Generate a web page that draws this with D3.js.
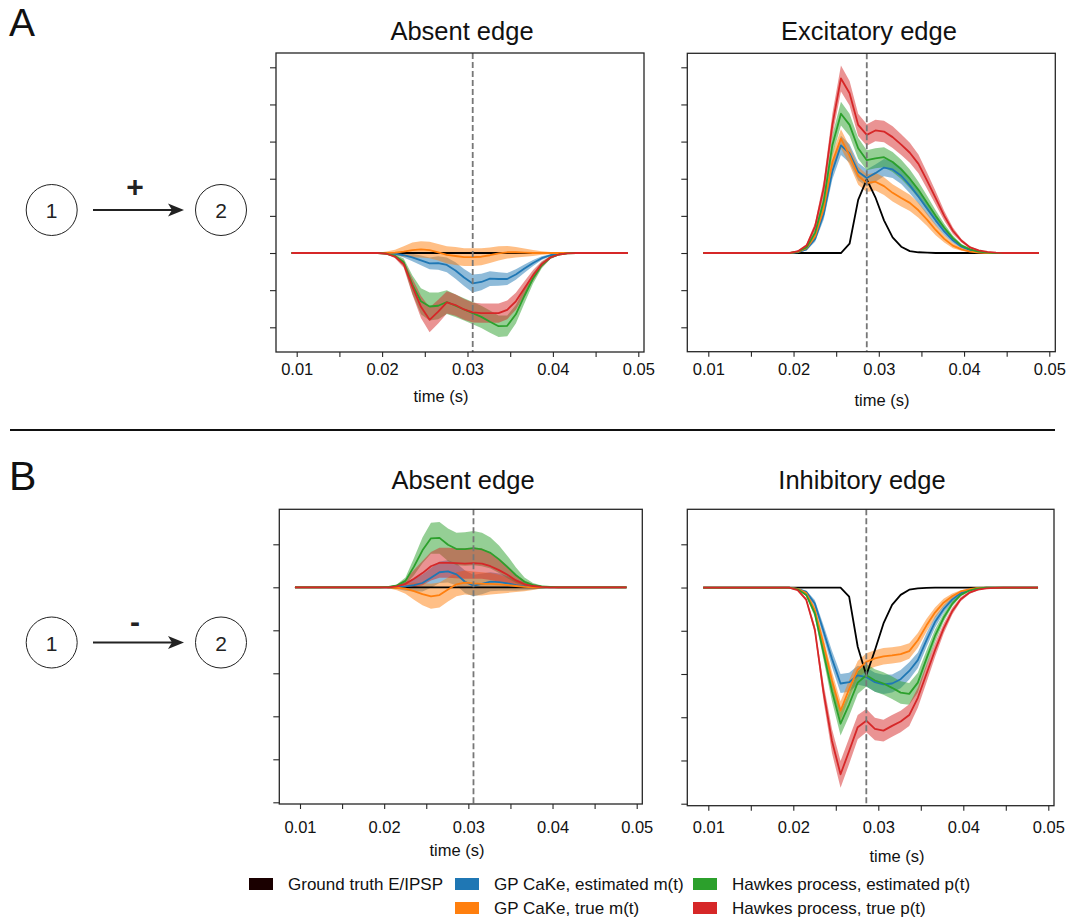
<!DOCTYPE html>
<html>
<head>
<meta charset="utf-8">
<script src="https://cdn.jsdelivr.net/npm/d3@7"></script>
<style>
  body { margin: 0; background: #fff; }
  svg { display: block; font-family: "Liberation Sans", Arial, Helvetica, sans-serif; }
</style>
</head>
<body>
<svg id="fig" width="1067" height="921"></svg>
<script>
// time grid (s)
const time = [
  0.00940, 0.01041, 0.01142, 0.01243, 0.01344, 0.01445, 0.01546, 0.01647, 0.01748, 0.01849,
  0.01950, 0.02051, 0.02152, 0.02253, 0.02354, 0.02455, 0.02556, 0.02657, 0.02758, 0.02859,
  0.02960, 0.03061, 0.03162, 0.03263, 0.03364, 0.03465, 0.03566, 0.03667, 0.03768, 0.03869,
  0.03970, 0.04071, 0.04172, 0.04273, 0.04374, 0.04475, 0.04576, 0.04677, 0.04778, 0.04879
];

const xTicks = [0.01, 0.015, 0.02, 0.025, 0.03, 0.035, 0.04, 0.045, 0.05];
const xTickLabels = ['0.01', '', '0.02', '', '0.03', '', '0.04', '', '0.05'];
const yTicksTop = [-2, -1, 0, 1, 2, 3, 4, 5];
const yTicksBottom = [-5, -4, -3, -2, -1, 0, 1];

const titles = ['Absent edge', 'Excitatory edge', 'Absent edge', 'Inhibitory edge'];
const dashedTimes = [0.03061, 0.02859, 0.03061, 0.02859];

const seriesKeys = ['black', 'blue', 'orange', 'green', 'red'];
const colors = {black: '#000000', blue: '#1f77b4', orange: '#ff7f0e', green: '#2ca02c', red: '#d62728'};

const legendLabels = ['Ground truth E/IPSP', 'GP CaKe, estimated m(t)', 'Hawkes process, estimated p(t)',
                      'GP CaKe, true m(t)', 'Hawkes process, true p(t)'];
const legendColors = ['#1a0000', '#1f77b4', '#2ca02c', '#ff7f0e', '#d62728'];

// ---- A, absent edge
const aAbsBlack = [0,0,0,0,0,0,0,0,0,0, 0,0,0,0,0,0,0,0,0,0, 0,0,0,0,0,0,0,0,0,0, 0,0,0,0,0,0,0,0,0,0];
const aAbsBlue = [0,0,0,0,0,0,0,0,0,0,0, 0, -0.02, -0.06, -0.12, -0.20, -0.28, -0.27, -0.32, -0.47, -0.66, -0.82, -0.78, -0.69, -0.70, -0.70, -0.58, -0.42, -0.27, -0.14, -0.06, -0.02, 0,0,0,0,0,0,0,0];
const aAbsBlueSd = [0,0,0,0,0,0,0,0,0,0,0, 0.01, 0.03, 0.06, 0.10, 0.13, 0.16, 0.18, 0.20, 0.22, 0.23, 0.24, 0.22, 0.20, 0.18, 0.16, 0.14, 0.11, 0.08, 0.05, 0.03, 0.02, 0.01, 0,0,0,0,0,0,0];
const aAbsOrange = [0,0,0,0,0,0,0,0,0,0,0, 0, 0.01, 0.04, 0.08, 0.10, 0.08, 0.02, -0.05, -0.08, -0.11, -0.11, -0.10, -0.06, -0.01, 0.02, 0.02, 0.01, 0,0,0,0,0,0,0,0,0,0,0,0];
const aAbsOrangeSd = [0,0,0,0,0,0,0,0,0,0, 0.01, 0.04, 0.08, 0.14, 0.20, 0.22, 0.22, 0.22, 0.23, 0.24, 0.24, 0.24, 0.23, 0.21, 0.19, 0.17, 0.14, 0.11, 0.08, 0.05, 0.03, 0.02, 0.01, 0,0,0,0,0,0,0];
const aAbsGreen = [0,0,0,0,0,0,0,0,0,0,0, -0.02, -0.08, -0.25, -0.85, -1.30, -1.44, -1.42, -1.32, -1.42, -1.52, -1.62, -1.72, -1.85, -1.97, -1.96, -1.65, -1.15, -0.68, -0.33, -0.12, -0.04, -0.01, 0,0,0,0,0,0,0];
const aAbsGreenSd = [0,0,0,0,0,0,0,0,0,0,0, 0.01, 0.04, 0.10, 0.25, 0.35, 0.38, 0.36, 0.32, 0.30, 0.30, 0.30, 0.30, 0.30, 0.29, 0.28, 0.25, 0.20, 0.14, 0.08, 0.04, 0.02, 0.01, 0,0,0,0,0,0,0];
const aAbsRed = [0,0,0,0,0,0,0,0,0,0,0, -0.02, -0.10, -0.30, -0.90, -1.45, -1.80, -1.58, -1.33, -1.40, -1.52, -1.60, -1.62, -1.62, -1.62, -1.53, -1.30, -0.95, -0.60, -0.30, -0.12, -0.04, -0.01, 0,0,0,0,0,0,0];
const aAbsRedSd = [0,0,0,0,0,0,0,0,0,0,0, 0.01, 0.04, 0.10, 0.22, 0.30, 0.33, 0.32, 0.30, 0.29, 0.28, 0.27, 0.26, 0.26, 0.26, 0.25, 0.23, 0.19, 0.14, 0.08, 0.04, 0.02, 0.01, 0,0,0,0,0,0,0];

// ---- A, excitatory edge
const aExcBlack = [0,0,0,0,0,0,0,0,0,0,0,0,0,0,0,0,0, 0.25, 1.43, 1.98, 1.50, 0.88, 0.42, 0.17, 0.05, 0.02, 0.01, 0,0,0,0,0,0,0,0,0,0,0,0,0];
const aExcBlue = [0,0,0,0,0,0,0,0,0,0,0, 0.02, 0.10, 0.38, 1.05, 2.20, 2.90, 2.68, 2.19, 2.02, 2.15, 2.30, 2.25, 2.08, 1.82, 1.52, 1.20, 0.88, 0.58, 0.34, 0.17, 0.08, 0.03, 0.01, 0,0,0,0,0,0];
const aExcBlueSd = [0,0,0,0,0,0,0,0,0,0,0, 0.01, 0.03, 0.08, 0.15, 0.22, 0.26, 0.25, 0.24, 0.23, 0.23, 0.23, 0.23, 0.22, 0.21, 0.19, 0.17, 0.14, 0.10, 0.07, 0.04, 0.02, 0.01, 0,0,0,0,0,0,0];
const aExcOrange = [0,0,0,0,0,0,0,0,0,0,0, 0.03, 0.13, 0.45, 1.20, 2.45, 3.08, 2.62, 2.08, 1.88, 1.92, 1.80, 1.62, 1.48, 1.35, 1.15, 0.90, 0.62, 0.38, 0.20, 0.10, 0.04, 0.01, 0,0,0,0,0,0,0];
const aExcOrangeSd = [0,0,0,0,0,0,0,0,0,0,0, 0.01, 0.03, 0.08, 0.15, 0.22, 0.25, 0.25, 0.24, 0.24, 0.24, 0.24, 0.23, 0.23, 0.22, 0.20, 0.17, 0.14, 0.10, 0.07, 0.04, 0.02, 0.01, 0,0,0,0,0,0,0];
const aExcGreen = [0,0,0,0,0,0,0,0,0,0,0, 0.04, 0.15, 0.55, 1.40, 2.90, 3.75, 3.45, 2.82, 2.50, 2.55, 2.58, 2.45, 2.25, 2.00, 1.70, 1.35, 1.00, 0.68, 0.40, 0.20, 0.10, 0.04, 0.01, 0,0,0,0,0,0];
const aExcGreenSd = [0,0,0,0,0,0,0,0,0,0,0, 0.01, 0.03, 0.08, 0.18, 0.28, 0.32, 0.30, 0.28, 0.27, 0.27, 0.27, 0.27, 0.26, 0.25, 0.22, 0.19, 0.15, 0.11, 0.07, 0.04, 0.02, 0.01, 0,0,0,0,0,0,0];
const aExcRed = [0,0,0,0,0,0,0,0,0,0,0, 0.05, 0.20, 0.72, 1.75, 3.45, 4.70, 4.30, 3.45, 3.18, 3.30, 3.27, 3.12, 2.92, 2.70, 2.40, 1.95, 1.48, 1.00, 0.60, 0.33, 0.15, 0.07, 0.03, 0.01, 0,0,0,0,0];
const aExcRedSd = [0,0,0,0,0,0,0,0,0,0,0, 0.01, 0.04, 0.10, 0.20, 0.30, 0.35, 0.33, 0.30, 0.29, 0.29, 0.29, 0.29, 0.28, 0.27, 0.25, 0.22, 0.18, 0.13, 0.09, 0.05, 0.03, 0.01, 0,0,0,0,0,0,0];

// ---- B, absent edge
const bAbsBlack = [0,0,0,0,0,0,0,0,0,0, 0,0,0,0,0,0,0,0,0,0, 0,0,0,0,0,0,0,0,0,0, 0,0,0,0,0,0,0,0,0,0];
const bAbsBlue = [0,0,0,0,0,0,0,0,0,0,0, 0, 0.01, 0.02, 0.05, 0.10, 0.22, 0.35, 0.37, 0.30, 0.13, 0.04, 0.08, 0.13, 0.12, 0.09, 0.05, 0.02, 0.01, 0,0,0,0,0,0,0,0,0,0,0];
const bAbsBlueSd = [0,0,0,0,0,0,0,0,0,0,0, 0.02, 0.05, 0.10, 0.15, 0.20, 0.23, 0.25, 0.26, 0.26, 0.26, 0.25, 0.24, 0.22, 0.20, 0.17, 0.13, 0.09, 0.06, 0.03, 0.01, 0,0,0,0,0,0,0,0,0];
const bAbsOrange = [0,0,0,0,0,0,0,0,0,0,0, 0, -0.01, -0.03, -0.09, -0.16, -0.21, -0.18, -0.05, 0.07, 0.11, 0.09, 0.08, 0.08, 0.07, 0.05, 0.03, 0.01, 0,0,0,0,0,0,0,0,0,0,0,0];
const bAbsOrangeSd = [0,0,0,0,0,0,0,0,0,0,0, 0.02, 0.06, 0.12, 0.20, 0.26, 0.29, 0.29, 0.28, 0.28, 0.28, 0.28, 0.27, 0.25, 0.22, 0.18, 0.14, 0.10, 0.06, 0.03, 0.01, 0,0,0,0,0,0,0,0,0];
const bAbsGreen = [0,0,0,0,0,0,0,0,0,0,0, 0.01, 0.04, 0.15, 0.48, 0.86, 1.14, 1.15, 0.99, 0.89, 0.89, 0.91, 0.88, 0.80, 0.65, 0.47, 0.28, 0.13, 0.05, 0.02, 0.01, 0,0,0,0,0,0,0,0,0];
const bAbsGreenSd = [0,0,0,0,0,0,0,0,0,0,0, 0.01, 0.03, 0.08, 0.20, 0.30, 0.36, 0.37, 0.38, 0.38, 0.39, 0.40, 0.39, 0.36, 0.32, 0.26, 0.18, 0.10, 0.05, 0.02, 0.01, 0,0,0,0,0,0,0,0,0];
const bAbsRed = [0,0,0,0,0,0,0,0,0,0,0, 0, 0.02, 0.08, 0.20, 0.33, 0.49, 0.57, 0.57, 0.56, 0.55, 0.56, 0.55, 0.49, 0.40, 0.29, 0.16, 0.07, 0.03, 0.01, 0,0,0,0,0,0,0,0,0,0];
const bAbsRedSd = [0,0,0,0,0,0,0,0,0,0,0, 0.01, 0.04, 0.10, 0.20, 0.28, 0.33, 0.35, 0.35, 0.35, 0.35, 0.36, 0.35, 0.32, 0.27, 0.21, 0.14, 0.08, 0.04, 0.02, 0.01, 0,0,0,0,0,0,0,0,0];

// ---- B, inhibitory edge
const bInhBlack = [0,0,0,0,0,0,0,0,0,0,0,0,0,0,0,0,0, -0.21, -1.37, -2.03, -1.45, -0.83, -0.40, -0.17, -0.05, -0.02, -0.01, 0,0,0,0,0,0,0,0,0,0,0,0,0];
const bInhBlue = [0,0,0,0,0,0,0,0,0,0,0, -0.03, -0.10, -0.37, -1.00, -1.65, -2.22, -2.19, -2.03, -2.07, -2.19, -2.24, -2.22, -2.12, -1.93, -1.68, -1.22, -0.80, -0.50, -0.28, -0.13, -0.05, -0.02, 0,0,0,0,0,0,0];
const bInhBlueSd = [0,0,0,0,0,0,0,0,0,0,0, 0.01, 0.03, 0.08, 0.14, 0.19, 0.22, 0.22, 0.22, 0.22, 0.22, 0.22, 0.21, 0.21, 0.20, 0.18, 0.16, 0.13, 0.09, 0.06, 0.03, 0.02, 0.01, 0,0,0,0,0,0,0];
const bInhOrange = [0,0,0,0,0,0,0,0,0,0,0, -0.03, -0.13, -0.52, -1.30, -2.15, -2.85, -2.35, -1.90, -1.72, -1.64, -1.59, -1.57, -1.54, -1.47, -1.22, -0.88, -0.58, -0.35, -0.20, -0.09, -0.04, -0.01, 0,0,0,0,0,0,0];
const bInhOrangeSd = [0,0,0,0,0,0,0,0,0,0,0, 0.01, 0.03, 0.08, 0.15, 0.20, 0.22, 0.21, 0.20, 0.20, 0.19, 0.19, 0.19, 0.19, 0.18, 0.17, 0.15, 0.12, 0.09, 0.06, 0.03, 0.02, 0.01, 0,0,0,0,0,0,0];
const bInhGreen = [0,0,0,0,0,0,0,0,0,0,0, -0.04, -0.17, -0.60, -1.50, -2.40, -3.15, -2.70, -2.20, -2.03, -2.15, -2.22, -2.32, -2.43, -2.46, -2.20, -1.65, -1.12, -0.70, -0.38, -0.17, -0.07, -0.02, 0,0,0,0,0,0,0];
const bInhGreenSd = [0,0,0,0,0,0,0,0,0,0,0, 0.01, 0.03, 0.08, 0.16, 0.23, 0.27, 0.27, 0.26, 0.26, 0.26, 0.26, 0.26, 0.26, 0.25, 0.23, 0.19, 0.15, 0.10, 0.06, 0.03, 0.02, 0.01, 0,0,0,0,0,0,0];
const bInhRed = [0,0,0,0,0,0,0,0,0,0,0, -0.06, -0.28, -0.97, -2.40, -3.55, -4.32, -3.78, -3.23, -3.08, -3.27, -3.31, -3.20, -3.10, -2.95, -2.55, -2.00, -1.45, -0.95, -0.55, -0.27, -0.12, -0.05, -0.02, -0.01, 0,0,0,0,0];
const bInhRedSd = [0,0,0,0,0,0,0,0,0,0,0, 0.01, 0.04, 0.10, 0.20, 0.28, 0.31, 0.30, 0.28, 0.27, 0.26, 0.25, 0.25, 0.25, 0.25, 0.23, 0.20, 0.16, 0.12, 0.08, 0.05, 0.03, 0.01, 0,0,0,0,0,0,0];

const svg = d3.select('#fig');

// layout of the four axes (pixels)
const panels = [
  {box: {l: 276, r: 644, t: 53, b: 352}, x01: 296.7, x05: 638.3, yTicks: yTicksTop, yPix: [327.3, 67.3],
   tickY: 375, label: [441, 402], titlePos: [462, 40],
   mean: {black: aAbsBlack, blue: aAbsBlue, orange: aAbsOrange, green: aAbsGreen, red: aAbsRed},
   sd: {blue: aAbsBlueSd, orange: aAbsOrangeSd, green: aAbsGreenSd, red: aAbsRedSd}},
  {box: {l: 687.3, r: 1055.3, t: 53.3, b: 351.7}, x01: 708.3, x05: 1049.3, yTicks: yTicksTop, yPix: [327.3, 67.3],
   tickY: 375, label: [882, 406], titlePos: [869, 40],
   mean: {black: aExcBlack, blue: aExcBlue, orange: aExcOrange, green: aExcGreen, red: aExcRed},
   sd: {blue: aExcBlueSd, orange: aExcOrangeSd, green: aExcGreenSd, red: aExcRedSd}},
  {box: {l: 279.3, r: 642.3, t: 509.3, b: 804}, x01: 300, x05: 636.7, yTicks: yTicksBottom, yPix: [802.3, 544.3],
   tickY: 833, label: [457, 856], titlePos: [463, 489],
   mean: {black: bAbsBlack, blue: bAbsBlue, orange: bAbsOrange, green: bAbsGreen, red: bAbsRed},
   sd: {blue: bAbsBlueSd, orange: bAbsOrangeSd, green: bAbsGreenSd, red: bAbsRedSd}},
  {box: {l: 687.3, r: 1054, t: 509.3, b: 805.7}, x01: 708.3, x05: 1048.3, yTicks: yTicksBottom, yPix: [803.7, 544.3],
   tickY: 833, label: [897, 862], titlePos: [862, 489],
   mean: {black: bInhBlack, blue: bInhBlue, orange: bInhOrange, green: bInhGreen, red: bInhRed},
   sd: {blue: bInhBlueSd, orange: bInhOrangeSd, green: bInhGreenSd, red: bInhRedSd}}
];

function drawPanel(p, idx) {
  const x = d3.scaleLinear().domain([0.01, 0.05]).range([p.x01, p.x05]);
  const y = d3.scaleLinear()
    .domain([p.yTicks[0], p.yTicks[p.yTicks.length - 1]])
    .range(p.yPix);
  const g = svg.append('g');

  // confidence bands first, then the mean lines
  ['blue', 'orange', 'green', 'red'].forEach(k => {
    const m = p.mean[k], s = p.sd[k];
    const area = d3.area()
      .x((d, i) => x(time[i]))
      .y0((d, i) => y(m[i] - s[i]))
      .y1((d, i) => y(m[i] + s[i]));
    g.append('path')
      .datum(m)
      .attr('d', area)
      .attr('fill', colors[k])
      .attr('fill-opacity', 0.5)
      .attr('stroke', 'none');
  });

  seriesKeys.forEach(k => {
    const line = d3.line()
      .x((d, i) => x(time[i]))
      .y(d => y(d));
    g.append('path')
      .datum(p.mean[k])
      .attr('d', line)
      .attr('fill', 'none')
      .attr('stroke', colors[k])
      .attr('stroke-width', 1.8)
      .attr('stroke-linejoin', 'round');
  });

  // dashed marker
  g.append('line')
    .attr('x1', x(dashedTimes[idx])).attr('x2', x(dashedTimes[idx]))
    .attr('y1', p.box.t).attr('y2', p.box.b)
    .attr('stroke', '#777')
    .attr('stroke-width', 1.8)
    .attr('stroke-dasharray', '6,3');

  // frame
  g.append('rect')
    .attr('x', p.box.l).attr('y', p.box.t)
    .attr('width', p.box.r - p.box.l).attr('height', p.box.b - p.box.t)
    .attr('fill', 'none')
    .attr('stroke', '#262626')
    .attr('stroke-width', 1.3);

  // x axis
  const xAxis = g.append('g')
    .attr('transform', `translate(0,${p.box.b})`)
    .call(d3.axisBottom(x).tickValues(xTicks).tickSize(5).tickSizeOuter(0)
      .tickFormat((d, i) => xTickLabels[i]));
  xAxis.select('.domain').remove();
  xAxis.selectAll('line').attr('stroke', '#262626').attr('stroke-width', 1.1);
  xAxis.selectAll('text')
    .attr('y', p.tickY - p.box.b)
    .attr('dy', 0)
    .attr('font-size', 16.5)
    .attr('font-family', null)
    .attr('fill', '#111');

  // y axis, ticks only
  const yAxis = g.append('g')
    .attr('transform', `translate(${p.box.l},0)`)
    .call(d3.axisLeft(y).tickValues(p.yTicks).tickSize(6).tickFormat(''));
  yAxis.select('.domain').remove();
  yAxis.selectAll('line').attr('stroke', '#262626').attr('stroke-width', 1.1);

  g.append('text')
    .attr('x', p.label[0]).attr('y', p.label[1])
    .attr('text-anchor', 'middle')
    .attr('font-size', 16.5)
    .attr('fill', '#111')
    .text('time (s)');

  g.append('text')
    .attr('x', p.titlePos[0]).attr('y', p.titlePos[1])
    .attr('text-anchor', 'middle')
    .attr('font-size', 25.5)
    .attr('fill', '#111')
    .text(titles[idx]);
}

panels.forEach(drawPanel);

// connection diagrams
function drawDiagram(cy, sign, signY, signSize) {
  const g = svg.append('g');
  [[51.7, '1'], [221, '2']].forEach(([cx, lbl]) => {
    g.append('circle')
      .attr('cx', cx).attr('cy', cy).attr('r', 25.5)
      .attr('fill', 'none').attr('stroke', '#222').attr('stroke-width', 1);
    g.append('text')
      .attr('x', cx).attr('y', cy + 8.3)
      .attr('text-anchor', 'middle')
      .attr('font-size', 21)
      .attr('fill', '#222')
      .text(lbl);
  });
  g.append('line')
    .attr('x1', 93).attr('x2', 174).attr('y1', cy).attr('y2', cy)
    .attr('stroke', '#222').attr('stroke-width', 2.2);
  g.append('path')
    .attr('d', `M184,${cy} L168,${cy - 6.5} L172,${cy} L168,${cy + 6.5} Z`)
    .attr('fill', '#222');
  g.append('text')
    .attr('x', 135).attr('y', signY)
    .attr('text-anchor', 'middle')
    .attr('font-size', signSize)
    .attr('font-weight', 'bold')
    .attr('fill', '#222')
    .text(sign);
}
drawDiagram(210, '+', 197, 30);
drawDiagram(642.5, '-', 632, 30);

// panel letters
svg.append('text').attr('x', 9).attr('y', 36).attr('font-size', 39).attr('fill', '#111').text('A');
svg.append('text').attr('x', 9).attr('y', 490).attr('font-size', 41).attr('fill', '#111').text('B');

// separator
svg.append('line')
  .attr('x1', 10).attr('x2', 1055).attr('y1', 430).attr('y2', 430)
  .attr('stroke', '#111').attr('stroke-width', 2);

// legend
const legendCols = [249, 455, 693, 455, 693];
const legendRows = [884, 884, 884, 908, 908];
const legend = svg.append('g')
  .selectAll('g')
  .data(legendLabels)
  .enter()
  .append('g')
  .attr('transform', (d, i) => `translate(${legendCols[i]},${legendRows[i]})`);
legend.append('rect')
  .attr('x', 0).attr('y', -6).attr('width', 24).attr('height', 12)
  .attr('fill', (d, i) => legendColors[i]);
legend.append('text')
  .attr('x', 39).attr('y', 6)
  .attr('font-size', 17)
  .attr('fill', '#111')
  .text(d => d);
</script>
</body>
</html>
